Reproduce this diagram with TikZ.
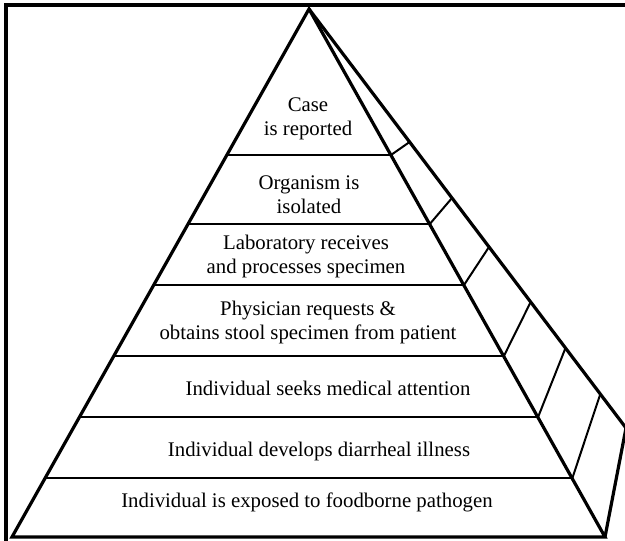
\documentclass[tikz,border=0pt]{standalone}
\usepackage{fontspec}
\setmainfont{Liberation Serif}
\begin{document}
\begin{tikzpicture}[x=0.75pt, y=-0.75pt,
	outline/.style={line width=2.4pt, line join=miter},
	tier/.style={line width=1.6pt},
	tick/.style={line width=1.5pt},
	label/.style={align=center, font=\fontsize{15.6}{18}\selectfont, inner sep=0pt}]
	\useasboundingbox (0,0) rectangle (625,541);

	% frame
	\coordinate (f0) at (6,541);
	\coordinate (f1) at (6,5);
	\coordinate (f2) at (625,5);
	\draw[line width=3pt] (f0) -- (f1) -- (f2);

	% pyramid corners
	\coordinate (apex) at (309,9);
	\coordinate (bl)   at (12,537);
	\coordinate (br)   at (605,537);
	\coordinate (bk)   at (626,428);

	% tier ends on the front face
	\coordinate (l1) at (226.9,155);  \coordinate (r1) at (391.0,155);
	\coordinate (l2) at (188.1,224);  \coordinate (r2) at (429.8,224);
	\coordinate (l3) at (153.7,285);  \coordinate (r3) at (464.0,285);
	\coordinate (l4) at (113.8,356);  \coordinate (r4) at (503.9,356);
	\coordinate (l5) at (79.5,417);   \coordinate (r5) at (538.1,417);
	\coordinate (l6) at (45.2,478);   \coordinate (r6) at (572.4,478);

	% tick ends on the back edge
	\coordinate (s1) at (409.6,142);
	\coordinate (s2) at (452.0,198);
	\coordinate (s3) at (489.0,247);
	\coordinate (s4) at (530.7,302);
	\coordinate (s5) at (565.5,348);
	\coordinate (s6) at (600.3,394);

	\path [tier] (l1) edge (r1);
	\path [tier] (l2) edge (r2);
	\path [tier] (l3) edge (r3);
	\path [tier] (l4) edge (r4);
	\path [tier] (l5) edge (r5);
	\path [tier] (l6) edge (r6);

	\path [tick] (r1) edge (s1);
	\path [tick] (r2) edge (s2);
	\path [tick] (r3) edge (s3);
	\path [tick] (r4) edge (s4);
	\path [tick] (r5) edge (s5);
	\path [tick] (r6) edge (s6);

	\draw [outline] (bl) -- (apex) -- (br) -- cycle;
	\draw [outline] (apex) -- (bk) -- (br);

	\node[label] (case)  at (308,119) {Case\\is reported};
	\node[label] (iso)   at (309,195) {Organism is\\isolated};
	\node[label] (lab)   at (306,257) {Laboratory receives\\and processes specimen};
	\node[label] (phys)  at (308,322) {Physician requests \&\\obtains stool specimen from patient};
	\node[label] (seeks) at (328,388) {Individual seeks medical attention};
	\node[label] (ill)   at (319,451) {Individual develops diarrheal illness};
	\node[label] (exp)   at (307,502) {Individual is exposed to foodborne pathogen};
\end{tikzpicture}
\end{document}
